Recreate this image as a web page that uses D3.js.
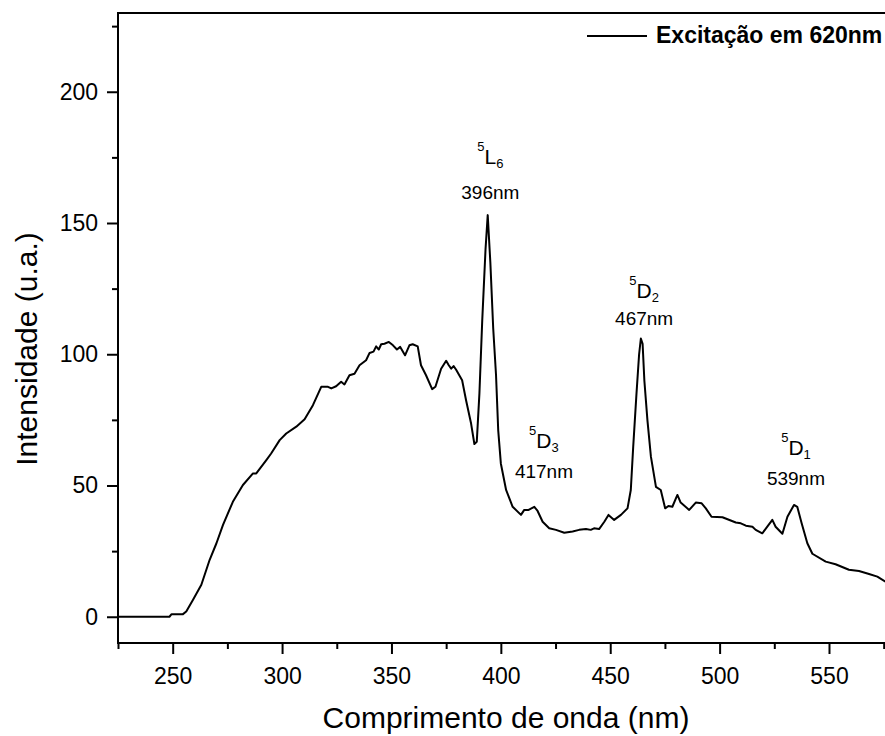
<!DOCTYPE html>
<html>
<head>
<meta charset="utf-8">
<script src="https://cdn.jsdelivr.net/npm/d3@7"></script>
<style>
  body { margin: 0; background: #fff; }
  svg { display: block; }
  text { font-family: Arial, "Liberation Sans", sans-serif; fill: #000; }
</style>
</head>
<body>
<svg></svg>
<script>
// spectrum
const wavelength = [
  225, 248.5, 249.5, 254.7, 256.2, 259.3, 263.1, 266.9, 270, 273, 277.5, 282.1, 286.7, 288.2,
  292.8, 295, 298.9, 301.9, 306.5, 310.3, 314.1, 317.9, 321, 322.5, 324.7, 327, 328.5, 330.8,
  333.1, 335.4, 338.4, 340, 341.8, 343, 344.2, 345.3, 346.8, 348.8, 350.7, 352.5, 354, 356.2,
  358.2, 359.7, 362, 363.5, 365.8, 368.6, 370.1, 372.7, 375, 376.2, 377.3, 378.4, 379.5, 382.3,
  384.1, 386.4, 387.9, 389, 390.2, 391.5, 393, 394, 395.2, 396.5, 397.8, 398.8, 400, 402.4,
  405.4, 409.2, 410.7, 412.7, 415.3, 416.8, 419.1, 422.1, 425.2, 429, 432.8, 435.8, 438.9, 441.1,
  442.6, 444.9, 447.3, 449.2, 451.8, 454.9, 457.9, 459.4, 460.5, 462, 463.2, 464, 464.8, 465.6,
  467, 468.6, 470.9, 473.1, 475.1, 476.6, 478.4, 480.7, 482.2, 486.1, 489.1, 491.8, 493.7, 496.3,
  501.3, 507.4, 509.7, 512, 515, 516.5, 519.5, 521.8, 524.1, 525.6, 528.7, 531, 534, 535.5,
  537.5, 540.1, 542.4, 548.5, 553, 559.1, 563.7, 568.3, 572.1, 575.8
];
const intensity = [
  0, 0, 1, 1, 2, 6.5, 12.2, 21.7, 28, 35, 43.8, 50.2, 54.6, 54.6,
  59.7, 62.2, 67.3, 69.8, 72.4, 75.2, 80.6, 87.6, 87.6, 87, 87.8, 89.5, 88.5, 92,
  92.6, 95.8, 97.7, 100.5, 101, 103, 101.8, 103.8, 104, 104.7, 103.4, 101.8, 102.8, 99.6,
  103.4, 103.8, 103, 95.8, 92, 86.7, 87.6, 94.5, 97.5, 95.8, 94.5, 95.5, 94.2, 90.1,
  82.5, 73.6, 65.8, 66.7, 85, 113, 140, 153, 135, 110, 92, 71, 58.4, 48.3,
  41.9, 38.8, 40.7, 40.7, 41.9, 40.3, 36.2, 33.7, 33.1, 32, 32.5, 33.1, 33.4, 33.1,
  33.7, 33.4, 36.2, 38.8, 36.9, 38.8, 41.3, 48.3, 64.7, 85, 100, 106, 104, 90,
  74.9, 61, 49.5, 48.3, 41.3, 42.2, 41.9, 46.4, 43.5, 40.7, 43.5, 43.2, 41.3, 38.1,
  37.9, 35.9, 35.6, 34.7, 34.3, 33.1, 31.8, 34.3, 36.9, 34.3, 31.6, 38.1, 42.6, 41.9,
  35.6, 28, 24, 21, 20, 17.9, 17.4, 16.3, 15.3, 13.4
];

const xMajor = [250, 300, 350, 400, 450, 500, 550];
const xMinor = [225, 275, 325, 375, 425, 475, 525, 575];
const yMajor = [0, 50, 100, 150, 200];
const yMinor = [25, 75, 125, 175, 225];

// peak labels: term symbol + wavelength text, anchored in data units
const labelTerm = ["L", "D", "D", "D"];
const labelSub = ["6", "3", "2", "1"];
const labelNm = ["396nm", "417nm", "467nm", "539nm"];
const labelWl = [395.2, 419.7, 465.5, 534.9];
const labelTermY = [172.6, 64.3, 121.3, 61.6];
const labelNmY = [159.1, 52.9, 111, 50.2];

const legendText = "Excitação em 620nm";

const width = 885, height = 736;
const m = { left: 118, top: 13, right: 885, bottom: 643 };

const svg = d3.select("svg")
  .attr("width", width)
  .attr("height", height);

const x = d3.scaleLinear().domain([225, 575.6]).range([m.left, m.right]);
const y = d3.scaleLinear().domain([-10, 230]).range([m.bottom, m.top]);

svg.append("clipPath").attr("id", "plot")
  .append("rect")
  .attr("x", m.left).attr("y", m.top)
  .attr("width", m.right - m.left).attr("height", m.bottom - m.top);

// minor ticks first, then major ticks with labels
svg.append("g")
  .attr("transform", `translate(0,${m.bottom})`)
  .call(d3.axisBottom(x).tickValues(xMinor).tickSize(6).tickFormat(""))
  .call(g => g.select(".domain").remove());

svg.append("g")
  .attr("transform", `translate(0,${m.bottom})`)
  .call(d3.axisBottom(x).tickValues(xMajor).tickSize(11).tickPadding(14).tickFormat(d3.format("d")))
  .call(g => g.select(".domain").remove())
  .call(g => g.selectAll("text").attr("font-size", 23).attr("font-family", null));

svg.append("g")
  .attr("transform", `translate(${m.left},0)`)
  .call(d3.axisLeft(y).tickValues(yMinor).tickSize(6).tickFormat(""))
  .call(g => g.select(".domain").remove());

svg.append("g")
  .attr("transform", `translate(${m.left},0)`)
  .call(d3.axisLeft(y).tickValues(yMajor).tickSize(11).tickPadding(9).tickFormat(d3.format("d")))
  .call(g => g.select(".domain").remove())
  .call(g => g.selectAll("text").attr("font-size", 23).attr("font-family", null));

svg.selectAll(".tick line").attr("stroke", "#000").attr("stroke-width", 2);

// frame (right edge falls outside the picture)
svg.append("path")
  .attr("d", `M${m.right + 2},${m.top}H${m.left}V${m.bottom}H${m.right + 2}`)
  .attr("fill", "none")
  .attr("stroke", "#000")
  .attr("stroke-width", 2);

const line = d3.line()
  .x(i => x(wavelength[i]))
  .y(i => y(intensity[i]));

svg.append("path")
  .attr("clip-path", "url(#plot)")
  .attr("d", line(d3.range(wavelength.length)))
  .attr("fill", "none")
  .attr("stroke", "#000")
  .attr("stroke-width", 2)
  .attr("stroke-linejoin", "round");

// peak labels
labelTerm.forEach((term, i) => {
  const t = svg.append("text")
    .attr("x", x(labelWl[i]))
    .attr("y", y(labelTermY[i]))
    .attr("text-anchor", "middle");
  t.append("tspan").attr("font-size", 13).attr("dy", -13).text("5");
  t.append("tspan").attr("font-size", 21).attr("dy", 13).text(term);
  t.append("tspan").attr("font-size", 13).attr("dy", 4).text(labelSub[i]);

  svg.append("text")
    .attr("x", x(labelWl[i]))
    .attr("y", y(labelNmY[i]))
    .attr("text-anchor", "middle")
    .attr("font-size", 19)
    .text(labelNm[i]);
});

// legend
svg.append("line")
  .attr("x1", 587).attr("x2", 647)
  .attr("y1", 36).attr("y2", 36)
  .attr("stroke", "#000")
  .attr("stroke-width", 2);

svg.append("text")
  .attr("x", 656).attr("y", 43)
  .attr("font-size", 23)
  .attr("font-weight", "bold")
  .text(legendText);

// axis titles
svg.append("text")
  .attr("x", 506).attr("y", 728)
  .attr("text-anchor", "middle")
  .attr("font-size", 30)
  .text("Comprimento de onda (nm)");

svg.append("text")
  .attr("transform", "translate(37,349) rotate(-90)")
  .attr("text-anchor", "middle")
  .attr("font-size", 30)
  .text("Intensidade (u.a.)");
</script>
</body>
</html>
